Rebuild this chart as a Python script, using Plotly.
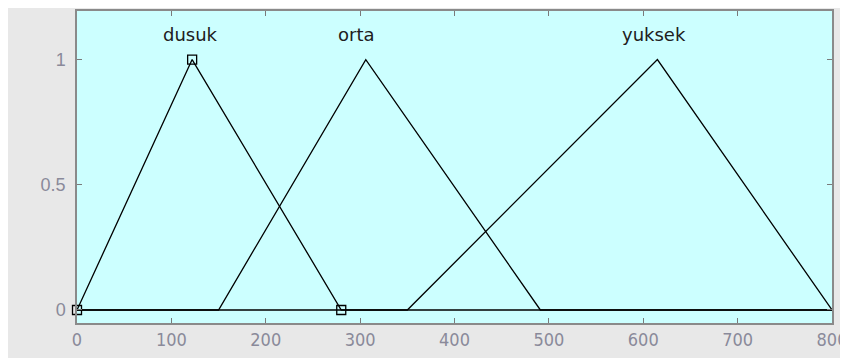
import plotly.graph_objects as go

x_min, x_max = 0, 800
mf_names = ["dusuk", "orta", "yuksek"]
mf_params = [[0, 122, 280], [150, 306, 491], [350, 615, 800]]
label_x = [120, 296, 611]
label_y = 1.1
x_ticks = [0, 100, 200, 300, 400, 500, 600, 700, 800]
y_ticks = [0, 0.5, 1]
marker_x = [0, 122, 280]
marker_y = [0, 1, 0]

fig = go.Figure()
for name, (a, b, c) in zip(mf_names, mf_params):
    xs = [x_min, a, b, c, x_max]
    ys = [0, 0, 1, 0, 0]
    fig.add_trace(go.Scatter(x=xs, y=ys, mode="lines", name=name,
                             line=dict(color="black", width=1.3),
                             showlegend=False, hoverinfo="skip"))

fig.add_trace(go.Scatter(x=marker_x, y=marker_y, mode="markers",
                         marker=dict(symbol="square-open", size=9,
                                     color="black", line=dict(width=1.3)),
                         showlegend=False, cliponaxis=False))

for name, lx in zip(mf_names, label_x):
    fig.add_annotation(x=lx, y=label_y, text=name, showarrow=False,
                       font=dict(family="DejaVu Sans", size=18,
                                 color="#202020"))

x_tick_font = dict(family="Liberation Sans Narrow, DejaVu Sans Condensed, Arial",
                   size=18, color="#8a8a9a")
y_tick_font = dict(family="Liberation Sans, Arial", size=18, color="#8a8a9a")
fig.update_layout(
    width=848, height=358,
    margin=dict(l=69, r=24, t=1, b=43),
    paper_bgcolor="#e8e8e8",
    plot_bgcolor="#ccffff",
    xaxis=dict(range=[x_min, x_max], tickvals=x_ticks, ticks="inside",
               ticklen=5, tickcolor="#7a7a7a", showgrid=False, zeroline=False,
               showline=True, linecolor="#8a8a8a", linewidth=1.5,
               mirror="allticks", tickfont=x_tick_font, ticklabelstandoff=0),
    yaxis=dict(range=[-0.052, 1.194], tickvals=y_ticks,
               ticktext=["0", "0.5", "1"], ticks="inside",
               ticklen=5, tickcolor="#7a7a7a", showgrid=False, zeroline=False,
               showline=True, linecolor="#8a8a8a", linewidth=1.5,
               mirror="allticks", tickfont=y_tick_font, ticklabelstandoff=6),
)

fig.write_html("out.html")
